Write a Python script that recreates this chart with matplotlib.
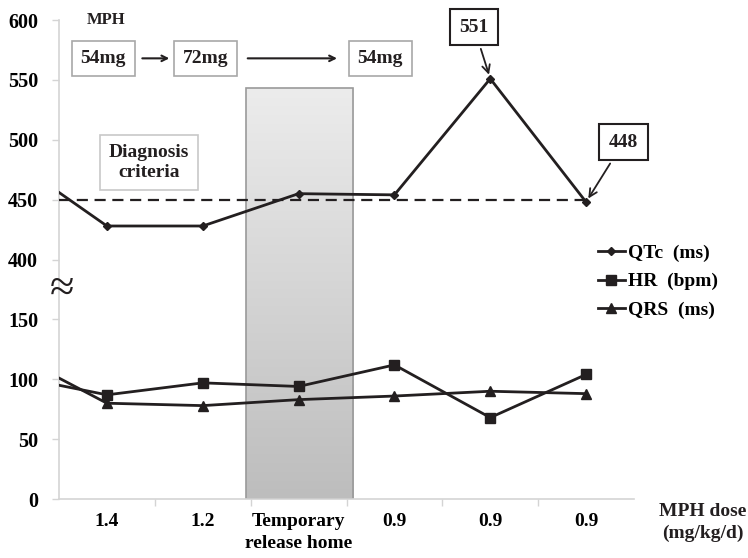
#!/usr/bin/env python3
# QTc / HR / QRS course under MPH dosing, broken y axis (0-150 | 400-600)

import numpy as np
import matplotlib
matplotlib.use("Agg")
import matplotlib.pyplot as plt
from matplotlib.patches import Rectangle

# -------------------- data --------------------
categories = ["1.4", "1.2", "Temporary\nrelease home", "0.9", "0.9", "0.9"]
# first value of each series belongs to an earlier visit, off the left edge
qtc = [484, 428, 428, 455, 454, 551, 448]
hr = [103, 87, 97, 94, 112, 68, 104]
qrs = [122, 80, 78, 83, 86, 90, 88]
x_vals = [-1, 0, 1, 2, 3, 4, 5]

diagnosis_cut = 450
release_span = (1.45, 2.57)      # shaded "temporary release home" period
release_top = 543
y_ticks = [0, 50, 100, 150, 400, 450, 500, 550, 600]
doses = ["54mg", "72mg", "54mg"]
# ----------------------------------------------

INK = "#231f20"

plt.rcParams["font.family"] = ["Liberation Serif", "DejaVu Serif"]
plt.rcParams["font.weight"] = "bold"


def fwd(v):
    v = np.asarray(v, dtype=float)
    return np.where(v <= 150, v, np.where(v >= 400, v - 200, 150 + (v - 150) * 0.2))


def inv(d):
    d = np.asarray(d, dtype=float)
    return np.where(d <= 150, d, np.where(d >= 200, d + 200, 150 + (d - 150) * 5))


fig = plt.figure(figsize=(7.48, 5.58), dpi=100)
ax = fig.add_axes([0.0789, 0.1057, 0.7687, 0.8584])
ax.set_yscale("function", functions=(fwd, inv))

# shaded release period, gradient light -> darker grey
x0 = (release_span[0] + 0.5) / 6
x1 = (release_span[1] + 0.5) / 6
ytop = float(fwd(release_top)) / 400
grad = np.linspace(0, 1, 256).reshape(-1, 1)
ax.imshow(grad, cmap=matplotlib.colors.LinearSegmentedColormap.from_list("g", ["#ececec", "#bdbdbd"]),
          extent=[x0, x1, 0, ytop], origin="upper", aspect="auto",
          transform=ax.transAxes, zorder=0)
ax.add_patch(Rectangle((x0, 0), x1 - x0, ytop, transform=ax.transAxes,
                       fill=False, ec="#9a9a9a", lw=1.2, zorder=1))

# series
l_qtc, = ax.plot(x_vals, qtc, color=INK, lw=2, marker="D", ms=4.5, zorder=4)
l_hr, = ax.plot(x_vals, hr, color=INK, lw=2, marker="s", ms=7.5, zorder=4)
l_qrs, = ax.plot(x_vals, qrs, color=INK, lw=2, marker="^", ms=6.5, zorder=4)
ax.plot([-0.5, 5], [diagnosis_cut, diagnosis_cut], color=INK, lw=1.6,
        ls=(0, (5, 3)), zorder=3)

ax.set_xlim(-0.5, 5.5)
ax.set_ylim(0, 600)

# axes styling
for s in ["top", "right"]:
    ax.spines[s].set_visible(False)
for s in ["left", "bottom"]:
    ax.spines[s].set_color("#d4d4d4")
    ax.spines[s].set_linewidth(1.2)
ax.set_yticks(y_ticks)
ax.set_yticklabels([str(t) for t in y_ticks])
ax.yaxis.set_minor_locator(matplotlib.ticker.NullLocator())
ax.tick_params(axis="y", length=5, width=1, color="#d4d4d4", labelsize=14.5, pad=10)
ax.set_xticks(range(len(categories)))
ax.set_xticklabels(categories)
ax.set_xticks(np.arange(0.5, 5.0, 1.0), minor=True)
ax.tick_params(axis="x", which="major", length=0, labelsize=14, pad=10)
ax.tick_params(axis="x", which="minor", length=5, width=1, color="#d4d4d4")
for lab in ax.get_xticklabels():
    lab.set_linespacing(1.4)

# axis break mark
ax.text(-0.47, 272, "≈", fontsize=32, ha="center", va="center",
        fontweight="normal", color=INK, clip_on=False)

# MPH dose sequence on top
ax.text(-0.01, 600, "MPH", fontsize=12, ha="center", va="center", color=INK)
box_grey = dict(boxstyle="square,pad=0.45", fc="white", ec="#a8a8a8", lw=1.2)
for xx, d in zip([-0.04, 1.03, 2.85], doses):
    ax.text(xx, 568, d, fontsize=14, ha="center", va="center", color=INK, bbox=box_grey)
for xa, xb in [(0.34, 0.68), (1.44, 2.43)]:
    ax.annotate("", xy=(xb, 568), xytext=(xa, 568),
                arrowprops=dict(arrowstyle="->", lw=1.5, color=INK))

ax.text(0.44, 481, "Diagnosis\ncriteria", fontsize=14, ha="center", va="center",
        color=INK, linespacing=1.25,
        bbox=dict(boxstyle="square,pad=0.45", fc="white", ec="#c8c8c8", lw=1.2))

# value call-outs
box_black = dict(boxstyle="square,pad=0.5", fc="white", ec=INK, lw=1.5)
ax.annotate(str(qtc[5]), xy=(4, qtc[5]), xytext=(3.83, 594), fontsize=14,
            ha="center", va="center", color=INK, bbox=box_black,
            arrowprops=dict(arrowstyle="->", lw=1.3, color=INK, shrinkB=3))
ax.annotate(str(qtc[6]), xy=(5, qtc[6]), xytext=(5.39, 498), fontsize=14,
            ha="center", va="center", color=INK, bbox=box_black,
            arrowprops=dict(arrowstyle="->", lw=1.3, color=INK, shrinkB=3))

fig.legend([l_qtc, l_hr, l_qrs], ["QTc  (ms)", "HR  (bpm)", "QRS  (ms)"],
           loc="upper left", bbox_to_anchor=(0.799, 0.562), frameon=False,
           fontsize=14, handlelength=1.4, handletextpad=0.15, labelspacing=0.55,
           borderpad=0, borderaxespad=0)

fig.text(0.94, 0.063, "MPH dose\n(mg/kg/d)", fontsize=14, ha="center", va="center",
         color=INK, linespacing=1.35)

fig.savefig("out.png", dpi=100)
